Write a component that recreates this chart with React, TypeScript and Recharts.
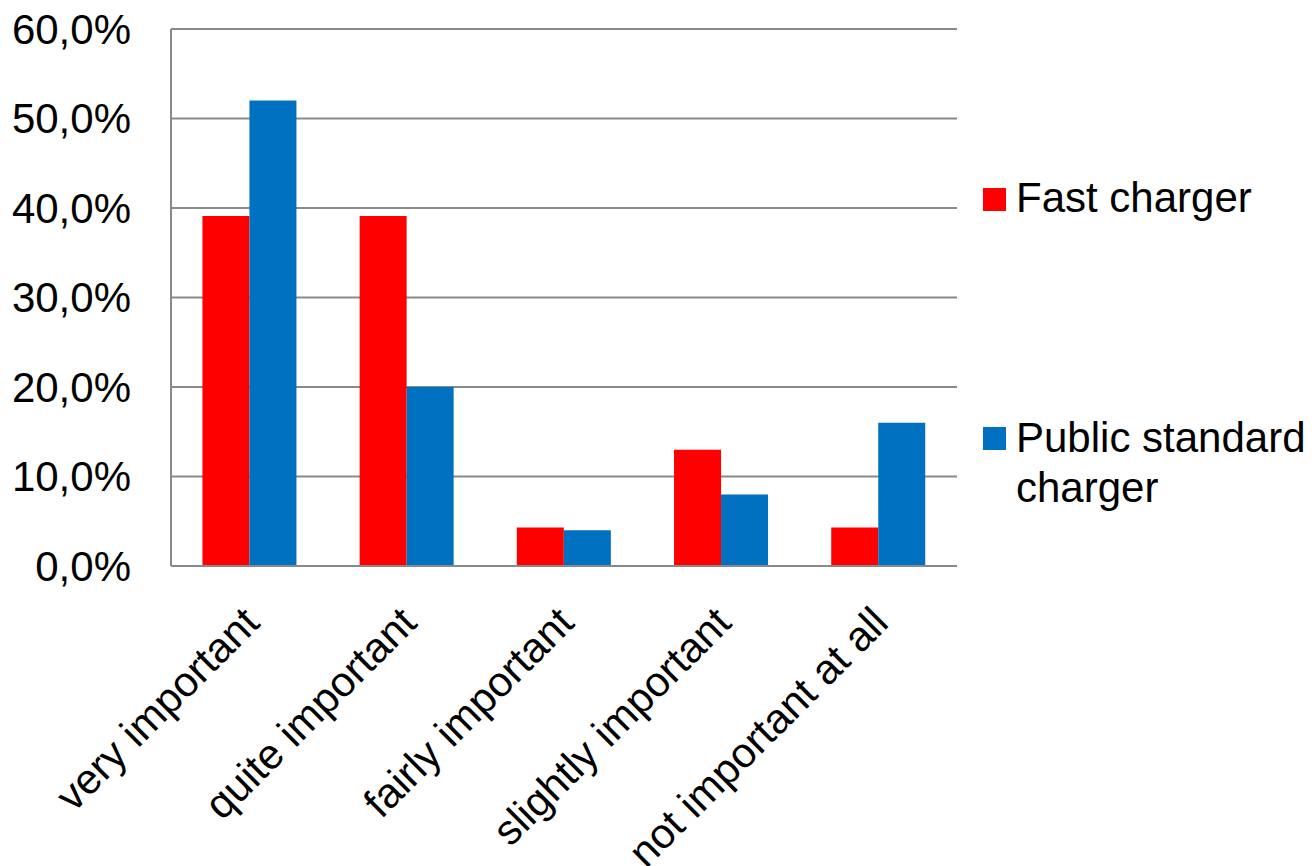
import React from "react";
import { BarChart, Bar, XAxis, YAxis, CartesianGrid, Legend } from "recharts";

const categories = ["very important", "quite important", "fairly important", "slightly important", "not important at all"];
const fastCharger = [39.1, 39.1, 4.3, 13.0, 4.3];
const publicStandard = [52.0, 20.0, 4.0, 8.0, 16.0];
const yTicks = [0, 10, 20, 30, 40, 50, 60];
const seriesNames = ["Fast charger", "Public standard charger"];
const seriesColors = ["#FF0000", "#0070C0"];

const data = categories.map((c, i) => ({ name: c, fast: fastCharger[i], pub: publicStandard[i] }));

const FONT = '"Liberation Sans", Arial, sans-serif';

const fmt = (v: number) => `${v.toFixed(1).replace(".", ",")}%`;

const XTick = (props: any) => {
  const { x, y, payload } = props;
  const bx = x + 12;
  const by = y + 59;
  return (
    <text
      x={bx}
      y={by}
      transform={`rotate(-45, ${bx}, ${by})`}
      textAnchor="end"
      fontFamily={FONT}
      fontSize={42}
      fill="#000"
    >
      {payload.value}
    </text>
  );
};

const LegendContent = () => (
  <div style={{ position: "absolute", left: 0, top: 0, width: 329, height: 400, fontFamily: FONT, fontSize: 42, lineHeight: "50px", color: "#000" }}>
    <div style={{ position: "absolute", left: 0, top: 15, width: 23, height: 23, background: seriesColors[0] }} />
    <div style={{ position: "absolute", left: 33, top: 0, whiteSpace: "nowrap" }}>{seriesNames[0]}</div>
    <div style={{ position: "absolute", left: 0, top: 254, width: 23, height: 23, background: seriesColors[1] }} />
    <div style={{ position: "absolute", left: 33, top: 240, width: 296 }}>{seriesNames[1]}</div>
  </div>
);

export default function App() {
  return (
    <div style={{ position: "absolute", left: 0, top: 0, width: 1312, height: 866, background: "#fff" }}>
      <BarChart
        width={1312}
        height={866}
        data={data}
        margin={{ top: 29, right: 355, left: 0, bottom: 0 }}
        barCategoryGap="20%"
        barGap={0}
      >
        <CartesianGrid vertical={false} stroke="#898989" strokeWidth={2} />
        <XAxis
          dataKey="name"
          height={300}
          tickSize={0}
          tickMargin={0}
          axisLine={{ stroke: "#898989", strokeWidth: 2 }}
          tickLine={false}
          tick={<XTick />}
          interval={0}
        />
        <YAxis
          width={171}
          domain={[0, 60]}
          ticks={yTicks}
          tickFormatter={fmt}
          tickSize={0}
          tickMargin={40}
          axisLine={{ stroke: "#898989", strokeWidth: 2 }}
          tickLine={false}
          tick={{ fontFamily: FONT, fontSize: 42, fill: "#000" }}
          interval={0}
        />
        <Legend
          layout="vertical"
          align="right"
          verticalAlign="middle"
          content={<LegendContent />}
          wrapperStyle={{ position: "absolute", left: 983, top: 173, width: 0, height: 0, overflow: "visible" }}
        />
        <Bar dataKey="fast" name={seriesNames[0]} fill={seriesColors[0]} isAnimationActive={false} />
        <Bar dataKey="pub" name={seriesNames[1]} fill={seriesColors[1]} isAnimationActive={false} />
      </BarChart>
    </div>
  );
}
